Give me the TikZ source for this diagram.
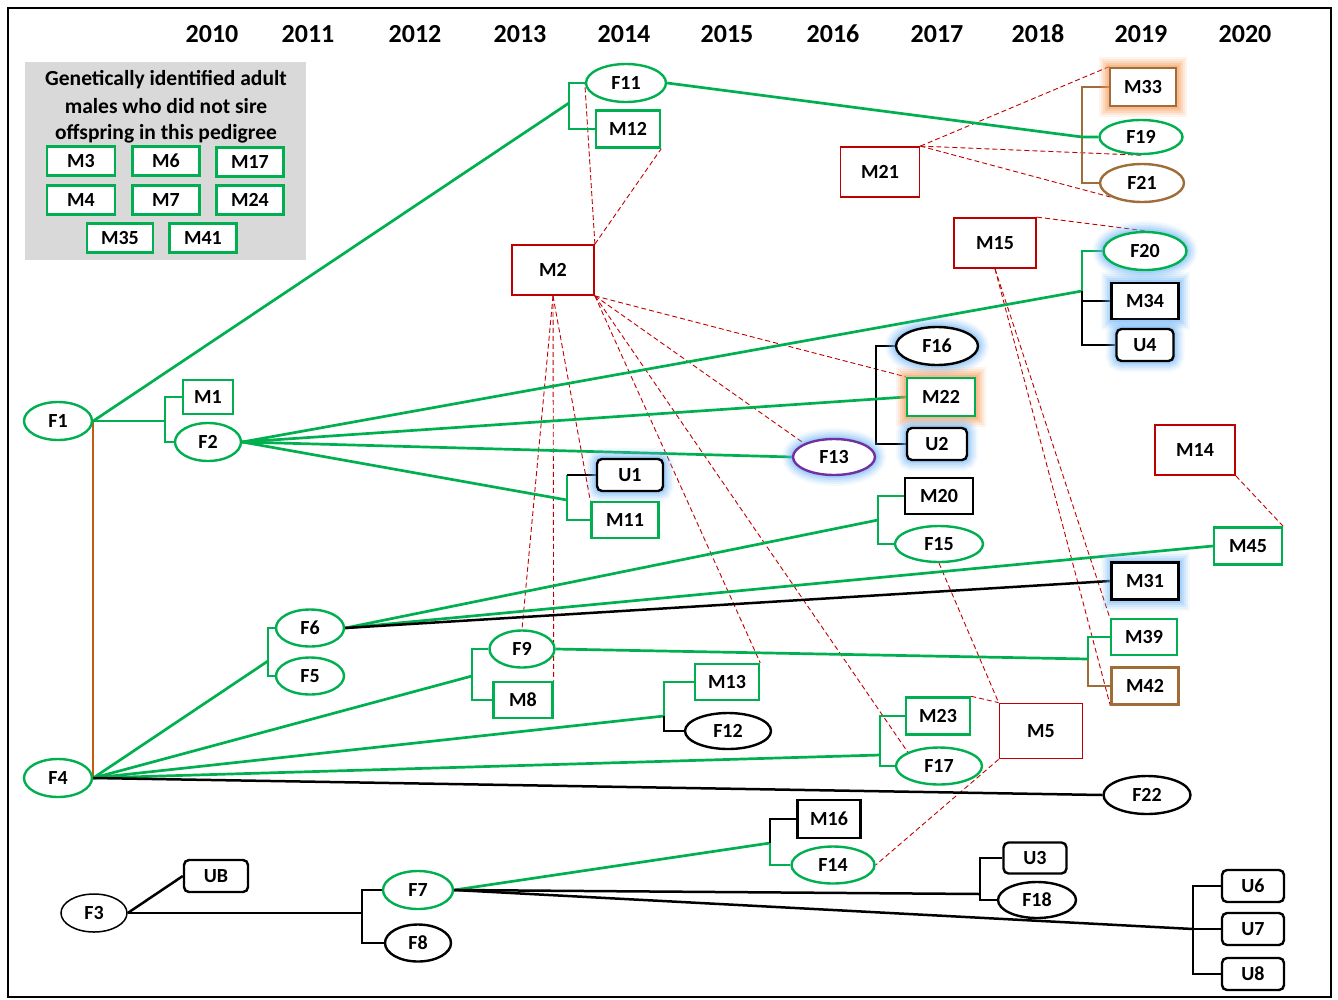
\documentclass[tikz,border=0pt]{standalone}
\usepackage{fontspec}
\setmainfont{Carlito}
\usetikzlibrary{shapes.geometric,backgrounds}
\definecolor{pgreen}{RGB}{0,176,80}
\definecolor{pred}{RGB}{192,0,0}
\definecolor{pbrown}{RGB}{160,108,55}
\definecolor{porange}{RGB}{197,90,17}
\definecolor{ppurple}{RGB}{112,48,160}
\definecolor{glowb}{RGB}{110,180,245}
\definecolor{glowo}{RGB}{245,150,80}
\definecolor{lgray}{RGB}{217,217,217}
\begin{document}
\begin{tikzpicture}[x=1pt,y=-1pt,
  lbl/.style={font=\fontsize{20}{22}\selectfont\bfseries, inner sep=0pt, fill=white, line width=2.4pt},
  fem/.style={lbl, ellipse, draw},
  mal/.style={lbl, rectangle, draw},
  unk/.style={lbl, rectangle, rounded corners=5pt, draw},
  sz/.style 2 args={minimum width=#1, minimum height=#2},
  gB/.style={preaction={draw=glowb, line width=22pt, opacity=0.08}, preaction={draw=glowb, line width=18pt, opacity=0.12}, preaction={draw=glowb, line width=14pt, opacity=0.15}, preaction={draw=glowb, line width=10pt, opacity=0.2}, preaction={draw=glowb, line width=6pt, opacity=0.3}},
  gO/.style={preaction={draw=glowo, line width=22pt, opacity=0.1}, preaction={draw=glowo, line width=18pt, opacity=0.14}, preaction={draw=glowo, line width=14pt, opacity=0.18}, preaction={draw=glowo, line width=10pt, opacity=0.22}, preaction={draw=glowo, line width=6pt, opacity=0.3}},
  gl/.style={draw=pgreen, line width=2.7pt},
  bl/.style={draw=black, line width=2.5pt},
  brl/.style={draw=pbrown, line width=2.7pt},
  dl/.style={draw=pred, line width=0.9pt, dash pattern=on 5pt off 3pt},
  yr/.style={font=\fontsize{26}{28}\selectfont\bfseries, anchor=base, inner sep=0pt},
  lg/.style={font=\fontsize{21.5}{23}\selectfont\bfseries, anchor=base, inner sep=0pt},
]
\useasboundingbox (0,0) rectangle (1338,999);
\draw[line width=2.5pt] (8,8) rectangle (1331,997);

% years
\foreach \yy/\xx in {2010/212,2011/308,2012/415,2013/520,2014/624,2015/727,2016/833,2017/937,2018/1038,2019/1141,2020/1245}
  \node[yr] (y\yy) at (\xx,42) {\yy};

% legend
\fill[lgray] (25,62) rectangle (306,260);
\node[lg] (lg1) at (166,85) {Genetically identified adult};
\node[lg] (lg2) at (166,113) {males who did not sire};
\node[lg] (lg3) at (166,139) {offspring in this pedigree};
\node[mal, draw=pgreen, sz={68pt}{29pt}] (M3) at (81,161) {M3};
\node[mal, draw=pgreen, sz={67pt}{29pt}] (M6) at (166,161) {M6};
\node[mal, draw=pgreen, sz={67pt}{29pt}] (M17) at (250,162) {M17};
\node[mal, draw=pgreen, sz={68pt}{29pt}] (M4) at (81,200) {M4};
\node[mal, draw=pgreen, sz={67pt}{29pt}] (M7) at (166,200) {M7};
\node[mal, draw=pgreen, sz={67pt}{29pt}] (M24) at (250,200) {M24};
\node[mal, draw=pgreen, sz={66pt}{29pt}] (M35) at (120,238) {M35};
\node[mal, draw=pgreen, sz={67pt}{29pt}] (M41) at (203,238) {M41};

% main nodes
\node[fem, draw=pgreen, sz={68pt}{38pt}] (F1) at (58,421) {F1};
\node[mal, draw=pgreen, sz={50pt}{34pt}] (M1) at (208,397) {M1};
\node[fem, draw=pgreen, sz={66pt}{38pt}] (F2) at (208,442) {F2};
\node[fem, draw=pgreen, sz={80pt}{38pt}] (F11) at (626,83) {F11};
\node[mal, draw=pgreen, sz={64pt}{37pt}] (M12) at (628,129) {M12};
\node[mal, draw=pred, line width=1.8pt, sz={82pt}{50pt}] (M2) at (553,270) {M2};
\node[mal, draw=pred, line width=1.8pt, sz={79pt}{50pt}] (M21) at (880,172) {M21};
\node[mal, draw=pbrown, gO, sz={66pt}{38pt}] (M33) at (1143,87) {M33};
\node[fem, draw=pgreen, sz={83pt}{34pt}] (F19) at (1141,137) {F19};
\node[fem, draw=pbrown, sz={84pt}{38pt}] (F21) at (1142,183) {F21};
\node[mal, draw=pred, line width=1.8pt, sz={82pt}{50pt}] (M15) at (995,243) {M15};
\node[fem, draw=pgreen, gB, sz={83pt}{38pt}] (F20) at (1145,251) {F20};
\node[mal, draw=black, gB, sz={67pt}{36pt}] (M34) at (1145,301) {M34};
\node[unk, draw=black, gB, sz={57pt}{32pt}] (U4) at (1145,345) {U4};
\node[fem, draw=black, gB, sz={82pt}{38pt}] (F16) at (937,346) {F16};
\node[mal, draw=pgreen, gO, sz={68pt}{38pt}] (M22) at (941,397) {M22};
\node[unk, draw=black, gB, sz={60pt}{32pt}] (U2) at (937,444) {U2};
\node[fem, draw=ppurple, gB, sz={82pt}{36pt}] (F13) at (834,457) {F13};
\node[unk, draw=black, gB, sz={66pt}{32pt}] (U1) at (630,475) {U1};
\node[mal, draw=pgreen, sz={67pt}{36pt}] (M11) at (625,520) {M11};
\node[mal, draw=black, sz={68pt}{36pt}] (M20) at (939,496) {M20};
\node[fem, draw=pgreen, sz={88pt}{36pt}] (F15) at (939,544) {F15};
\node[mal, draw=pred, line width=1.8pt, sz={80pt}{50pt}] (M14) at (1195,450) {M14};
\node[mal, draw=pgreen, sz={68pt}{37pt}] (M45) at (1248,546) {M45};
\node[mal, draw=black, gB, sz={67pt}{37pt}] (M31) at (1145,581) {M31};
\node[mal, draw=pgreen, sz={66pt}{36pt}] (M39) at (1144,637) {M39};
\node[mal, draw=pbrown, sz={67pt}{37pt}] (M42) at (1145,686) {M42};
\node[fem, draw=pgreen, sz={68pt}{37pt}] (F6) at (310,628) {F6};
\node[fem, draw=pgreen, sz={68pt}{37pt}] (F5) at (310,676) {F5};
\node[fem, draw=pgreen, sz={65pt}{37pt}] (F9) at (522,649) {F9};
\node[mal, draw=pgreen, sz={59pt}{36pt}] (M8) at (523,700) {M8};
\node[mal, draw=pgreen, sz={64pt}{36pt}] (M13) at (727,682) {M13};
\node[fem, draw=black, sz={86pt}{36pt}] (F12) at (728,731) {F12};
\node[mal, draw=pgreen, sz={64pt}{37pt}] (M23) at (938,716) {M23};
\node[fem, draw=pgreen, sz={86pt}{37pt}] (F17) at (939,766) {F17};
\node[mal, draw=pred, line width=1.8pt, sz={83pt}{55pt}] (M5) at (1041,731) {M5};
\node[fem, draw=pgreen, sz={68pt}{38pt}] (F4) at (58,778) {F4};
\node[fem, draw=black, sz={87pt}{38pt}] (F22) at (1147,795) {F22};
\node[fem, draw=black, line width=1.5pt, sz={66pt}{38pt}] (F3) at (94,913) {F3};
\node[unk, draw=black, sz={64pt}{32pt}] (UB) at (216,876) {UB};
\node[fem, draw=pgreen, sz={70pt}{38pt}] (F7) at (418,890) {F7};
\node[fem, draw=black, sz={66pt}{37pt}] (F8) at (418,943) {F8};
\node[mal, draw=black, sz={63pt}{38pt}] (M16) at (829,819) {M16};
\node[fem, draw=pgreen, sz={83pt}{37pt}] (F14) at (833,865) {F14};
\node[unk, draw=black, sz={63pt}{31pt}] (U3) at (1035,858) {U3};
\node[fem, draw=black, sz={78pt}{36pt}] (F18) at (1037,900) {F18};
\node[unk, draw=black, sz={62pt}{32pt}] (U6) at (1253,886) {U6};
\node[unk, draw=black, sz={62pt}{32pt}] (U7) at (1253,929) {U7};
\node[unk, draw=black, sz={62pt}{32pt}] (U8) at (1253,974) {U8};

% bracket points
\coordinate (bA) at (165,421);
\coordinate (bB) at (569,103);
\coordinate (bC) at (1082,137);
\coordinate (bD) at (1082,291);
\coordinate (bE) at (876,397);
\coordinate (bF) at (567,500);
\coordinate (bG) at (878,520);
\coordinate (bH) at (268,661);
\coordinate (bI) at (472,676);
\coordinate (bJ) at (1088,659);
\coordinate (bK) at (664,716);
\coordinate (bL) at (880,755);
\coordinate (bM) at (362,913);
\coordinate (bN) at (770,843);
\coordinate (bO) at (980,894);
\coordinate (bP) at (1193,929);

\begin{scope}[on background layer]
% dashed red
\draw[dl] (M21.north east) -- (M33.north west);
\draw[dl] (M21.north east) -- (F19.south);
\draw[dl] (M21.north east) -- (F21.south west);
\draw[dl] (M15.north east) -- (F20.north);
\draw[dl] (M2.north east) -- (F11.west);
\draw[dl] (M2.north east) -- (M12.south east);
\draw[dl] (M2.south) -- (F9.north);
\draw[dl] (M2.south) -- (M8.north east);
\draw[dl] (M2.south) -- (M11.north west);
\draw[dl] (M2.south east) -- (M22.north west);
\draw[dl] (M2.south east) -- (F13.north west);
\draw[dl] (M2.south east) -- (M13.north east);
\draw[dl] (M2.south east) -- (F17.north west);
\draw[dl] (M15.south) -- (M39.north west);
\draw[dl] (M15.south) -- (M42.south west);
\draw[dl] (M14.south east) -- (M45.north east);
\draw[dl] (M23.north east) -- (M5.north west);
\draw[dl] (F15.south) -- (M5.north west);
\draw[dl] (M5.south west) -- (F14.east);

% F1 family
\draw[draw=porange, line width=2.4pt] (F1.east) -- (F4.east);
\draw[gl] (F1.east) -- (bB);
\draw[gl] (F1.east) -- (bA);
\draw[gl] (M1.west) -| (bA) |- (F2.west);
\draw[gl] (F11.west) -| (bB) |- (M12.west);
\draw[brl] (M33.west) -| (bC) |- (F21.west);
\draw[gl] (F11.east) -- (bC) -- (F19.west);

% F2 family
\draw[gl] (F2.east) -- (bD);
\draw[gl] (F20.west) -| (bD);
\draw[bl] (bD) |- (U4.west);
\draw[bl] (bD |- M34.west) -- (M34.west);
\draw[bl] (F16.west) -| (bE) |- (U2.west);
\draw[gl] (F2.east) -- (M22.west);
\draw[gl] (F2.east) -- (F13.west);
\draw[gl] (F2.east) -- (bF);
\draw[gl] (bF |- U1.west) |- (M11.west);
\draw[bl] (bF |- U1.west) -- (U1.west);

% F6 family
\draw[gl] (F6.east) -- (bG);
\draw[gl] (M20.west) -| (bG) |- (F15.west);
\draw[gl] (F6.east) -- (M45.west);
\draw[bl] (F6.east) -- (M31.west);

% F4 family
\draw[gl] (F4.east) -- (bH);
\draw[gl] (F6.west) -| (bH) |- (F5.west);
\draw[gl] (F4.east) -- (bI);
\draw[gl] (F9.west) -| (bI) |- (M8.west);
\draw[brl] (bJ) |- (M42.west);
\draw[gl] (F9.east) -- (bJ);
\draw[gl] (M39.west) -| (bJ);
\draw[gl] (F4.east) -- (bK);
\draw[gl] (M13.west) -| (bK);
\draw[bl] (bK) |- (F12.west);
\draw[gl] (F4.east) -- (bL);
\draw[gl] (M23.west) -| (bL) |- (F17.west);
\draw[bl] (F4.east) -- (F22.west);

% F3 family
\draw[bl] (F3.east) -- (UB.west);
\draw[bl] (F3.east) -- (bM);
\draw[bl] (F7.west) -| (bM) |- (F8.west);
\draw[gl] (F7.east) -- (bN);
\draw[bl] (M16.west) -| (bN);
\draw[gl] (bN) |- (F14.west);
\draw[bl] (F7.east) -- (bO);
\draw[bl] (U3.west) -| (bO) |- (F18.west);
\draw[bl] (F7.east) -- (bP);
\draw[bl] (U6.west) -| (bP) |- (U8.west);
\draw[bl] (bP) -- (U7.west);
\end{scope}
\end{tikzpicture}
\end{document}
